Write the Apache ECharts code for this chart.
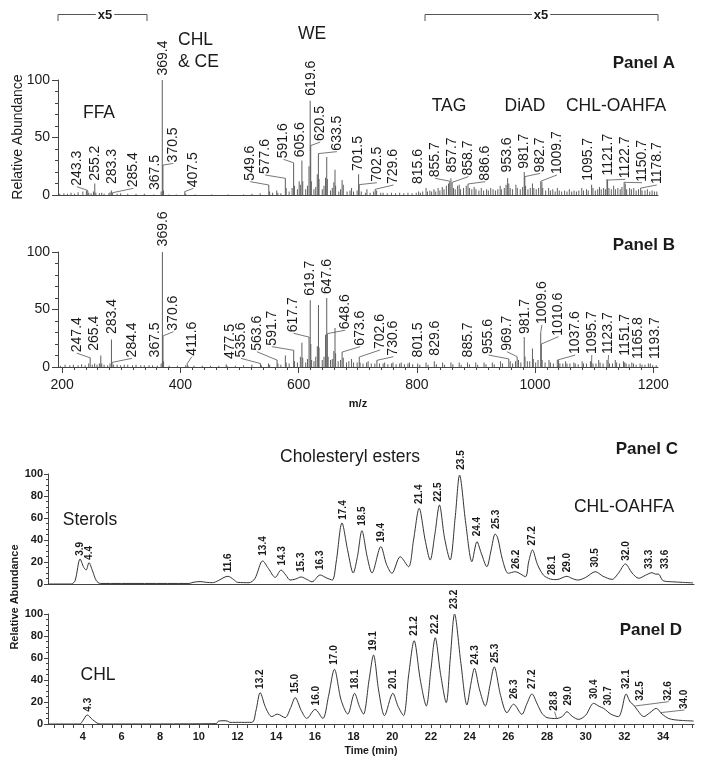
<!DOCTYPE html>
<html>
<head>
<meta charset="utf-8">
<script src="https://cdn.jsdelivr.net/npm/echarts@6.0.0/dist/echarts.min.js"></script>
<style>
  html, body { margin: 0; padding: 0; background: #fff; }
  #main { width: 704px; height: 768px; }
</style>
</head>
<body>
<div id="main"></div>
<script>
  // ---- data ----
  // mass spectra: [m/z, relative abundance as drawn]
  const spectrumA = [
    [196, 1], [203, 1.5], [209, 1], [215, 2], [221, 1], [227, 2.5], [235, 3], [241, 4], [243.3, 4], [245, 2],
    [249, 1.5], [253, 3], [255.2, 10], [257, 2], [263, 1.5], [267, 2], [271, 1], [279, 1.5], [281, 2.5], [283.3, 4],
    [285.4, 2], [293, 1], [299, 1.5], [311, 1], [325, 1], [339, 1],
    [355, 0.5], [367.5, 3], [369.4, 100], [370.5, 26], [371.5, 4], [381, 0.5], [393, 0.5], [407.5, 3], [409, 1],
    [425, 0.5], [453, 0.5], [481, 0.5], [507, 0.5], [521, 1], [535, 1.5], [549.6, 8.7], [551, 3], [556, 2], [563, 4],
    [565, 2], [570, 1.5], [577.6, 14.5], [579, 6], [584, 3], [589, 6], [591.6, 28], [593, 8], [598, 5], [601, 12],
    [603, 9], [605.6, 30], [607, 12], [612, 5], [615, 8], [617.6, 25], [619.6, 82], [620.5, 43], [621.6, 12], [626, 5],
    [629, 7], [631.6, 18], [633.5, 36], [634.6, 14], [640, 5], [643, 8], [645.6, 15], [647.6, 33], [648.6, 14], [654, 4],
    [657, 6], [659.6, 11], [661.6, 22], [662.6, 8], [668, 3], [671, 5], [673.6, 13], [675.6, 9], [682, 3], [687, 4],
    [689.6, 6], [693, 3], [699, 4], [701.5, 18], [702.5, 9], [706, 3], [713, 2], [715.6, 5], [721, 2], [727, 3],
    [729.6, 5], [732, 4], [739, 2], [743, 2], [750, 1.5], [757, 2], [764, 1.5], [771, 2], [778, 1.5], [785, 2],
    [792, 1.5], [799, 2],
    [803, 3], [806, 2], [810, 3], [815.6, 6], [818, 3], [822, 4], [825, 3], [829, 5], [832, 3], [836, 6],
    [839, 4], [843, 7], [846, 5], [850, 8], [853.6, 10], [855.7, 12], [857.7, 14.5], [859.7, 11], [862, 6], [865, 5],
    [869, 8], [871.7, 9], [874, 5], [879, 6], [883.6, 8], [886.6, 9.6], [889, 6], [893, 5], [897, 7], [900, 5],
    [905, 4], [909, 6], [913, 4], [918, 5], [921, 4], [925, 6], [929, 5], [933, 4], [937, 5], [941, 8],
    [943, 5], [948, 6], [951, 9], [953.6, 14.5], [955.6, 10], [958, 6], [962, 5], [967.6, 9], [970, 6], [975, 5],
    [979, 7], [981.7, 20], [982.7, 16], [984, 8], [988, 5], [992, 6], [995.6, 10], [998, 6], [1002, 5], [1006, 6],
    [1009.7, 12], [1011.6, 11.6], [1013, 6], [1018, 4], [1023, 6], [1026, 4], [1030, 5], [1034, 3], [1037.7, 6], [1041, 4],
    [1045, 3], [1050, 4], [1054, 3], [1058, 5], [1062, 3], [1066, 4], [1070, 3], [1074, 4], [1079, 6], [1082, 4],
    [1087, 5], [1090, 4], [1095.7, 9], [1098, 6], [1102, 4], [1106, 5], [1109, 7], [1112, 5], [1116, 6], [1119, 5],
    [1121.7, 14], [1122.7, 13], [1125, 6], [1129, 5], [1133, 8], [1136, 5], [1140, 6], [1144, 5], [1147, 7], [1150.7, 11],
    [1152.6, 10], [1155, 5], [1160, 6], [1163, 5], [1167, 6], [1171, 4], [1175, 5], [1178.7, 6], [1181, 4], [1186, 4],
    [1190, 5], [1194, 3], [1198, 4], [1202, 3], [1206, 3]
  ]

  const spectrumB = [
    [197, 1], [205, 2], [213, 1.5], [219, 2], [227, 1.5], [233, 2.5], [239, 1.5], [245, 3], [247.4, 8], [251, 2],
    [255, 3], [259, 2], [263, 3], [265.4, 10], [267, 3], [271, 2], [277, 1.5], [281, 3], [283.4, 24], [284.4, 4],
    [287, 2], [293, 2], [299, 1.5], [305, 2], [311, 2], [319, 1.5], [325, 2], [333, 1.5], [339, 1.5], [347, 1.5],
    [353, 1.5], [361, 1], [367.5, 3], [369.6, 100], [370.6, 27], [371.6, 5], [381, 1], [395, 1], [409, 1.5], [411.6, 3],
    [413, 1], [423, 1], [437, 1], [451, 1], [465, 1], [477.5, 2.5], [479, 1], [493, 1], [507, 1.5], [521, 2],
    [535.6, 3], [537, 1.5], [549, 3], [551, 2], [563.6, 6], [565, 3], [570, 2], [577.6, 10], [579, 4], [584, 3],
    [591.7, 14.5], [593, 5], [598, 4], [603, 9], [605.6, 21], [607, 8], [612, 4], [615, 7], [617.7, 26], [619.7, 58],
    [620.7, 20], [622, 6], [626, 5], [629, 9], [631.7, 18], [633.6, 54], [634.6, 17], [640, 6], [643, 9], [645.6, 28],
    [647.6, 60], [648.6, 29], [650, 9], [654, 6], [657, 7], [659.6, 14], [661.6, 34], [662.6, 12], [667, 5], [671, 6],
    [673.6, 13], [675.6, 8], [681, 4], [685, 5], [689.6, 7], [693, 4], [699, 4], [702.6, 8.7], [704, 4], [709, 3],
    [715, 4], [717.6, 5], [723, 3], [729, 3], [732.5, 5.8], [737, 3], [743, 3], [745.6, 4], [751, 2.5], [757, 3],
    [759.6, 4], [765, 2.5], [771, 3], [773.6, 4], [779, 2.5], [785, 3], [787.6, 4], [793, 2.5], [801.5, 3], [805, 2],
    [815.6, 4], [819, 2], [829.6, 5], [833, 2.5], [843.6, 4], [847, 2], [857.7, 4], [861, 2.5], [871.7, 4], [875, 2],
    [885.7, 4], [889, 2.5], [899.7, 4], [903, 2], [913.7, 4], [917, 2.5], [927.7, 4], [931, 2.5], [941.7, 5], [945, 3],
    [955.6, 7], [958, 5], [962, 3], [967, 5], [969.7, 9], [972, 6], [976, 4], [981.7, 26], [983, 9], [987, 5],
    [991, 5], [995.6, 16], [997, 7], [1001, 4], [1005, 6], [1009.6, 30], [1010.6, 20], [1012, 6], [1017, 4], [1023.6, 6],
    [1026, 4], [1031, 3], [1037.6, 6], [1039.8, 5.8], [1042, 3], [1047, 3], [1051.7, 5], [1054, 3], [1059, 3], [1065.7, 4],
    [1068, 3], [1073, 2.5], [1079.7, 5], [1082, 3], [1087, 3], [1093.7, 5], [1095.7, 5], [1098, 3], [1103, 3], [1107.7, 6],
    [1110, 4], [1115, 3], [1121.7, 6], [1123.7, 5], [1126, 3], [1131, 3], [1135.7, 6], [1138, 4], [1143, 3], [1149.7, 5],
    [1151.7, 4], [1154, 3], [1159, 2.5], [1163.7, 4], [1166.6, 3], [1171, 2], [1177.7, 3], [1181, 2], [1186, 2], [1191.7, 3],
    [1195, 3], [1199, 1.5], [1205, 1.5]
  ]

  // peak annotations: [text, peak x, peak y, label x, label y]
  const labelsA = [
    ['243.3', 243.3, 4, 224.8, 7.2], ['255.2', 255.2, 10, 255.8, 11.6], ['283.3', 283.3, 4, 284, 8.7],
    ['285.4', 285.4, 2, 320.6, 5.8], ['367.5', 367.5, 3, 357.4, 3.5], ['369.4', 369.4, 100, 371.5, 103],
    ['370.5', 370.5, 26, 388.3, 27.5], ['407.5', 407.5, 3, 422, 5.8], ['549.6', 549.6, 8.7, 518, 11.6],
    ['577.6', 577.6, 14.5, 543.5, 17.4], ['591.6', 591.6, 28, 574.5, 31], ['605.6', 605.6, 30, 602.7, 32],
    ['619.6', 619.6, 82, 620.8, 85.5], ['620.5', 620.5, 43, 636.5, 46], ['633.5', 633.5, 36, 664.8, 37.7],
    ['701.5', 701.5, 18, 701.4, 20], ['702.5', 702.5, 9, 732.5, 10.7], ['729.6', 729.6, 5, 760.6, 8.7],
    ['815.6', 815.6, 6, 803, 8.7], ['855.7', 855.7, 12, 831, 14.5], ['857.7', 857.7, 14.5, 859.4, 18.8],
    ['858.7', 859.7, 11, 887.5, 16], ['886.6', 886.6, 9.6, 915.7, 11.6], ['953.6', 953.6, 14.5, 952.4, 18.8],
    ['981.7', 981.7, 20, 982.2, 22], ['982.7', 982.7, 16, 1008.8, 18.8], ['1009.7', 1009.7, 12, 1037, 17.4],
    ['1095.7', 1095.7, 9, 1090.6, 11.6], ['1121.7', 1121.7, 14, 1124.4, 16], ['1122.7', 1122.7, 13, 1152.6, 13.6],
    ['1150.7', 1150.7, 11, 1181, 10.7], ['1178.7', 1178.7, 6, 1206, 8.7]
  ]

  const labelsB = [
    ['247.4', 247.4, 8, 224.8, 12], ['265.4', 265.4, 10, 254.7, 13.3], ['283.4', 283.4, 24, 284, 27.8],
    ['284.4', 284.4, 4, 318, 7.5], ['367.5', 367.5, 3, 357.4, 7.5], ['369.6', 369.6, 100, 371.5, 104],
    ['370.6', 370.6, 27, 388.3, 30.7], ['411.6', 411.6, 3, 419.4, 9], ['477.5', 477.5, 2.5, 484, 6],
    ['535.6', 535.6, 3, 502.4, 7.5], ['563.6', 563.6, 6, 529.4, 13.3], ['591.7', 591.7, 14.5, 554.8, 17.7],
    ['617.7', 617.7, 26, 591.4, 29.3], ['619.7', 619.7, 58, 619.6, 61], ['647.6', 647.6, 60, 647.9, 62.6],
    ['648.6', 648.6, 29, 678.8, 32], ['673.6', 673.6, 13, 704.2, 17.7], ['702.6', 702.6, 8.7, 738, 14.8],
    ['730.6', 732.5, 5.8, 760.6, 9], ['801.5', 801.5, 3, 803, 7.5], ['829.6', 829.6, 5, 831, 9],
    ['885.7', 885.7, 4, 887.5, 7.5], ['955.6', 955.6, 7, 921.3, 10.4], ['969.7', 969.7, 9, 952.4, 13.3],
    ['981.7', 981.7, 26, 983.4, 27.8], ['1009.6', 1009.6, 30, 1011.6, 36.5], ['1010.6', 1010.6, 20, 1039.8, 26.4],
    ['1037.6', 1037.6, 6, 1068, 10.4], ['1095.7', 1095.7, 5, 1096, 10.4], ['1123.7', 1123.7, 5, 1124.4, 10.4],
    ['1151.7', 1151.7, 4, 1152.6, 9], ['1165.8', 1166.6, 3, 1175, 6], ['1193.7', 1193.7, 3, 1203.4, 6]
  ]

  // chromatograms: [time (min), relative abundance]
  const traceC = [
    [2.2, 0], [3.4, 0], [3.6, 3], [3.86, 22.7], [4.05, 15], [4.17, 12.7], [4.32, 19.4], [4.5, 12], [4.7, 3], [4.9, 0.5],
    [9.5, 0.5], [9.7, 1.5], [10.06, 2.2], [10.4, 1.5], [10.7, 1.2], [11.0, 3], [11.3, 6], [11.51, 7], [11.8, 4], [12.0, 1.5],
    [12.6, 1.2], [12.9, 5], [13.3, 21], [13.6, 14], [13.95, 6], [14.25, 12.7], [14.5, 8], [14.72, 3.6], [15.0, 4.5], [15.29, 6.4],
    [15.6, 4], [15.85, 2], [16.27, 8.2], [16.6, 5.5], [16.9, 3.6], [17.1, 20], [17.4, 55.5], [17.7, 30], [17.98, 10], [18.2, 25],
    [18.43, 48.5], [18.7, 25], [18.95, 10], [19.41, 34], [19.7, 18], [19.98, 9.7], [20.41, 24.8], [20.84, 15.7], [21.1, 40], [21.39, 68.8],
    [21.7, 40], [21.96, 21.8], [22.2, 45], [22.44, 71.8], [22.7, 42], [22.99, 21.8], [23.25, 60], [23.48, 99], [23.8, 55], [24.12, 20.3],
    [24.38, 38.5], [24.6, 28], [24.89, 15.7], [25.1, 30], [25.32, 45.5], [25.45, 42], [25.7, 22], [26.0, 9.7], [26.36, 11.2], [26.88, 6.7],
    [27.05, 20], [27.25, 31], [27.5, 18], [27.82, 8], [28.17, 4.5], [28.5, 4], [29.03, 7], [29.3, 5], [29.6, 3.6], [30.0, 6],
    [30.5, 11.2], [30.9, 7], [31.36, 4.2], [31.7, 10], [32.05, 18.2], [32.4, 10], [32.74, 5.2], [33.1, 8], [33.43, 10.3], [33.6, 9],
    [33.76, 9], [34.0, 3], [34.5, 2], [35.0, 1.5], [35.55, 1]
  ]

  const traceD = [
    [2.2, 0], [3.85, 0], [4.0, 3], [4.23, 8.2], [4.5, 4], [4.89, 0], [10.9, 0.3], [11.0, 2.5], [11.3, 3], [11.5, 2.5],
    [11.6, 1.5], [12.74, 1.5], [12.95, 12], [13.17, 28.5], [13.45, 15], [13.77, 6.7], [14.06, 9], [14.46, 5.8], [14.75, 15], [14.98, 24],
    [15.3, 12], [15.58, 5.1], [16.01, 13.3], [16.41, 5], [16.7, 25], [17.01, 49.7], [17.35, 22], [17.7, 9], [18.05, 27.9], [18.3, 16],
    [18.51, 9], [18.8, 40], [19.03, 62.7], [19.3, 30], [19.6, 7.6], [20.03, 27.9], [20.3, 16], [20.58, 7.6], [20.85, 45], [21.13, 75.8],
    [21.45, 40], [21.76, 16.4], [22.0, 50], [22.22, 78.5], [22.5, 45], [22.79, 19.4], [23.0, 60], [23.22, 100], [23.55, 55], [23.86, 17.3],
    [24.05, 35], [24.25, 50.6], [24.5, 32], [24.81, 16.4], [25.05, 35], [25.27, 52], [25.6, 26], [25.93, 10.3], [26.27, 18], [26.7, 8.8],
    [26.95, 18], [27.22, 27.3], [27.5, 18], [27.74, 9.7], [28.0, 5.8], [28.5, 5], [28.8, 7], [29.03, 11.2], [29.3, 7], [29.63, 4.2],
    [30.0, 8], [30.41, 18.8], [30.7, 16], [30.93, 14.2], [31.3, 9], [31.7, 6.7], [31.85, 12], [32.09, 27.3], [32.3, 20], [32.48, 17.3],
    [32.7, 12], [33.0, 6.7], [33.3, 10], [33.65, 14.2], [33.95, 9], [34.29, 5], [34.6, 3.8], [35.0, 3.2], [35.58, 2.7]
  ]

  const labelsC = [
    ['3.9', 3.86, 22.7, 3.86, 24.8], ['4.4', 4.32, 19.4, 4.34, 21], ['11.6', 11.51, 7, 11.53, 9.7],
    ['13.4', 13.3, 21, 13.34, 24.8], ['14.3', 14.25, 12.7, 14.29, 15.8], ['15.3', 15.29, 6.4, 15.29, 10],
    ['16.3', 16.27, 8.2, 16.27, 11.8], ['17.4', 17.4, 55.5, 17.48, 57.5], ['18.5', 18.43, 48.5, 18.43, 52],
    ['19.4', 19.41, 34, 19.41, 37], ['21.4', 21.39, 68.8, 21.39, 71.8], ['22.5', 22.44, 71.8, 22.4, 73.8],
    ['23.5', 23.48, 99, 23.55, 103], ['24.4', 24.38, 38.5, 24.38, 42.4], ['25.3', 25.32, 45.5, 25.38, 49],
    ['26.2', 26.36, 11.2, 26.39, 12.7], ['27.2', 27.25, 31, 27.25, 34], ['28.1', 28.17, 4.5, 28.29, 7.3],
    ['29.0', 29.03, 7, 29.03, 9.7], ['30.5', 30.5, 11.2, 30.5, 14], ['32.0', 32.05, 18.2, 32.08, 20.3],
    ['33.3', 33.43, 10.3, 33.31, 12.7], ['33.6', 33.76, 9, 34.1, 12.7]
  ]

  const labelsD = [
    ['4.3', 4.23, 8.2, 4.28, 10.3], ['13.2', 13.17, 28.5, 13.17, 31], ['15.0', 14.98, 24, 14.98, 27],
    ['16.0', 16.01, 13.3, 16.07, 16], ['17.0', 17.01, 49.7, 17.01, 53], ['18.1', 18.05, 27.9, 18.08, 31],
    ['19.1', 19.03, 62.7, 19.03, 65.7], ['20.1', 20.03, 27.9, 20.06, 31], ['21.2', 21.13, 75.8, 21.13, 79.4],
    ['22.2', 22.22, 78.5, 22.22, 81], ['23.2', 23.22, 100, 23.22, 103.6], ['24.3', 24.25, 50.6, 24.29, 53],
    ['25.3', 25.27, 52, 25.32, 54.5], ['26.3', 26.27, 18, 26.31, 21.8], ['27.2', 27.22, 27.3, 27.25, 31],
    ['28.8', 28.5, 5, 28.39, 11.2], ['29.0', 29.03, 11.2, 29.08, 15.8], ['30.4', 30.41, 18.8, 30.46, 21.8],
    ['30.7', 30.93, 14.2, 31.15, 15.8], ['32.1', 32.09, 27.3, 32.09, 31], ['32.5', 32.48, 17.3, 32.83, 20.3],
    ['32.6', 32.57, 16.4, 34.29, 20.3], ['34.0', 33.86, 10.3, 35.1, 12.7]
  ]

  // axis ticks / tick labels
  const mzTickLabels = [200, 400, 600, 800, 1000, 1200]
  const timeTickLabels = [4, 6, 8, 10, 12, 14, 16, 18, 20, 22, 24, 26, 28, 30, 32, 34]
  const mzMinorTicks = []
  for (let v = 200; v <= 1200; v += 20) mzMinorTicks.push(v)
  const timeTicks = []
  for (let v = 2.5; v <= 35.5; v += 0.5) timeTicks.push(v)

  const FONT = "'Liberation Sans', Arial, sans-serif"
  const INK = '#1a1a1a'
  const AXIS = '#444'

  function labelSeries(labels, axisIndex, font) {
    return {
      type: 'custom',
      xAxisIndex: axisIndex,
      yAxisIndex: axisIndex,
      silent: true,
      clip: false,
      z: 5,
      data: labels.map(d => [d[1], d[2], d[3], d[4]]),
      renderItem: function (params, api) {
        const d = labels[params.dataIndex]
        const p0 = api.coord([d[1], d[2]])
        const p1 = api.coord([d[3], d[4]])
        const children = []
        if (Math.abs(p1[0] - p0[0]) > 8 || Math.abs(p1[1] - p0[1]) > 6) {
          children.push({
            type: 'line',
            shape: { x1: p0[0], y1: p0[1], x2: p1[0], y2: p1[1] },
            style: { stroke: '#555', lineWidth: 0.8 }
          })
        }
        children.push({
          type: 'text',
          x: p1[0],
          y: p1[1] - 1,
          rotation: Math.PI / 2,
          style: {
            text: d[0], font: font, fill: INK,
            align: 'left', verticalAlign: 'middle',
            textAlign: 'left', textVerticalAlign: 'middle'
          }
        })
        return { type: 'group', children: children }
      }
    }
  }

  function txt(x, y, text, font, align) {
    return {
      type: 'text', x: x, y: y, silent: true,
      style: {
        text: text, font: font, fill: INK,
        align: align || 'center', verticalAlign: 'middle',
        textAlign: align || 'center', textVerticalAlign: 'middle'
      }
    }
  }

  function seg(x1, y1, x2, y2) {
    return { type: 'line', silent: true, shape: { x1, y1, x2, y2 }, style: { stroke: '#555', lineWidth: 1 } }
  }

  function bracketLabel(x, y) {
    const t = txt(x, y, 'x5', 'bold 13px ' + FONT)
    t.z = 10
    t.style.backgroundColor = '#fff'
    t.style.padding = [0, 2]
    return t
  }

  const chart = echarts.init(document.getElementById('main'))

  const mzAxisBase = { type: 'value', min: 193, max: 1208, splitLine: { show: false } }
  const timeAxisBase = { type: 'value', min: 2.2, max: 35.6, splitLine: { show: false } }

  chart.setOption({
    animation: false,
    backgroundColor: '#fff',
    textStyle: { fontFamily: FONT },
    grid: [
      { left: 58, top: 80, width: 600, height: 115, outerBoundsMode: 'none' },
      { left: 58, top: 252, width: 600, height: 115, outerBoundsMode: 'none' },
      { left: 48, top: 474, width: 646, height: 110, outerBoundsMode: 'none' },
      { left: 48, top: 614, width: 646, height: 110, outerBoundsMode: 'none' }
    ],
    xAxis: [
      Object.assign({}, mzAxisBase, {
        gridIndex: 0,
        axisLine: { lineStyle: { color: AXIS } },
        axisTick: { show: false },
        axisLabel: { show: false }
      }),
      Object.assign({}, mzAxisBase, {
        gridIndex: 1,
        axisLine: { lineStyle: { color: AXIS } },
        axisTick: { customValues: mzMinorTicks, length: 3, lineStyle: { color: AXIS } },
        axisLabel: {
          customValues: mzTickLabels, fontSize: 14, color: INK, margin: 11,
          formatter: v => String(v)
        },
        name: 'm/z',
        nameLocation: 'middle',
        nameGap: 31,
        nameTextStyle: { fontSize: 11, fontWeight: 'bold', color: INK }
      }),
      Object.assign({}, timeAxisBase, {
        gridIndex: 2,
        axisLine: { lineStyle: { color: AXIS } },
        axisTick: { show: false },
        axisLabel: { show: false }
      }),
      Object.assign({}, timeAxisBase, {
        gridIndex: 3,
        axisLine: { lineStyle: { color: AXIS } },
        axisTick: { customValues: timeTicks, length: 4, lineStyle: { color: AXIS } },
        axisLabel: {
          customValues: timeTickLabels, fontSize: 11, fontWeight: 'bold', color: INK, margin: 7,
          formatter: v => String(v)
        },
        name: 'Time (min)',
        nameLocation: 'middle',
        nameGap: 22,
        nameTextStyle: { fontSize: 10.5, fontWeight: 'bold', color: INK }
      }),
      Object.assign({}, mzAxisBase, {
        gridIndex: 1,
        position: 'bottom',
        axisLine: { show: false },
        axisTick: { customValues: mzTickLabels, length: 6, lineStyle: { color: AXIS } },
        axisLabel: { show: false }
      })
    ],
    yAxis: [
      {
        type: 'value', gridIndex: 0, min: 0, max: 100, interval: 50,
        splitLine: { show: false },
        axisLine: { show: true, lineStyle: { color: AXIS } },
        axisTick: { show: true, length: 6, lineStyle: { color: AXIS } },
        minorTick: { show: true, splitNumber: 5, length: 3, lineStyle: { color: AXIS } },
        axisLabel: { fontSize: 14, color: INK, margin: 8 }
      },
      {
        type: 'value', gridIndex: 1, min: 0, max: 100, interval: 50,
        splitLine: { show: false },
        axisLine: { show: true, lineStyle: { color: AXIS } },
        axisTick: { show: true, length: 6, lineStyle: { color: AXIS } },
        minorTick: { show: true, splitNumber: 5, length: 3, lineStyle: { color: AXIS } },
        axisLabel: { fontSize: 14, color: INK, margin: 8 }
      },
      {
        type: 'value', gridIndex: 2, min: 0, max: 100, interval: 20,
        splitLine: { show: false },
        axisLine: { show: true, lineStyle: { color: AXIS } },
        axisTick: { show: true, length: 4, lineStyle: { color: AXIS } },
        minorTick: { show: true, splitNumber: 4, length: 2, lineStyle: { color: AXIS } },
        axisLabel: { fontSize: 11, fontWeight: 'bold', color: INK, margin: 5 }
      },
      {
        type: 'value', gridIndex: 3, min: 0, max: 100, interval: 20,
        splitLine: { show: false },
        axisLine: { show: true, lineStyle: { color: AXIS } },
        axisTick: { show: true, length: 4, lineStyle: { color: AXIS } },
        minorTick: { show: true, splitNumber: 4, length: 2, lineStyle: { color: AXIS } },
        axisLabel: { fontSize: 11, fontWeight: 'bold', color: INK, margin: 5 }
      }
    ],
    series: [
      {
        type: 'bar', xAxisIndex: 0, yAxisIndex: 0, data: spectrumA,
        barWidth: 1, itemStyle: { color: '#5f5f5f' }, silent: true
      },
      {
        type: 'bar', xAxisIndex: 1, yAxisIndex: 1, data: spectrumB,
        barWidth: 1, itemStyle: { color: '#5f5f5f' }, silent: true
      },
      {
        type: 'line', xAxisIndex: 2, yAxisIndex: 2, data: traceC,
        smooth: 0.3, showSymbol: false, silent: true,
        lineStyle: { color: '#333', width: 1 }
      },
      {
        type: 'line', xAxisIndex: 3, yAxisIndex: 3, data: traceD,
        smooth: 0.3, showSymbol: false, silent: true,
        lineStyle: { color: '#333', width: 1 }
      },
      labelSeries(labelsA, 0, '14px ' + FONT),
      labelSeries(labelsB, 1, '14px ' + FONT),
      labelSeries(labelsC, 2, 'bold 10px ' + FONT),
      labelSeries(labelsD, 3, 'bold 10px ' + FONT)
    ],
    graphic: [
      // x5 brackets
      seg(58, 14.5, 147, 14.5), seg(58, 14.5, 58, 21), seg(147, 14.5, 147, 21),
      seg(425, 14.5, 658, 14.5), seg(425, 14.5, 425, 21), seg(658, 14.5, 658, 21),
      bracketLabel(105, 15),
      bracketLabel(541, 15),
      // lipid class annotations
      txt(99, 113, 'FFA', '17.5px ' + FONT),
      txt(178, 40, 'CHL', '17.5px ' + FONT, 'left'),
      txt(178, 62, '& CE', '17.5px ' + FONT, 'left'),
      txt(312, 34, 'WE', '17.5px ' + FONT),
      txt(449, 106, 'TAG', '17.5px ' + FONT),
      txt(525, 106, 'DiAD', '17.5px ' + FONT),
      txt(616, 106, 'CHL-OAHFA', '17.5px ' + FONT),
      txt(280, 457, 'Cholesteryl esters', '17.5px ' + FONT, 'left'),
      txt(90, 520, 'Sterols', '17.5px ' + FONT),
      txt(624, 507, 'CHL-OAHFA', '17.5px ' + FONT),
      txt(98, 675, 'CHL', '17.5px ' + FONT),
      // panel titles
      txt(675, 63, 'Panel A', 'bold 17px ' + FONT, 'right'),
      txt(675, 245, 'Panel B', 'bold 17px ' + FONT, 'right'),
      txt(678, 449, 'Panel C', 'bold 17px ' + FONT, 'right'),
      txt(682, 630, 'Panel D', 'bold 17px ' + FONT, 'right'),
      // y titles
      Object.assign(txt(18, 137, 'Relative Abundance', '14px ' + FONT), { rotation: Math.PI / 2 }),
      Object.assign(txt(15, 597, 'Relative Abundance', 'bold 11px ' + FONT), { rotation: Math.PI / 2 })
    ]
  })
</script>
</body>
</html>
